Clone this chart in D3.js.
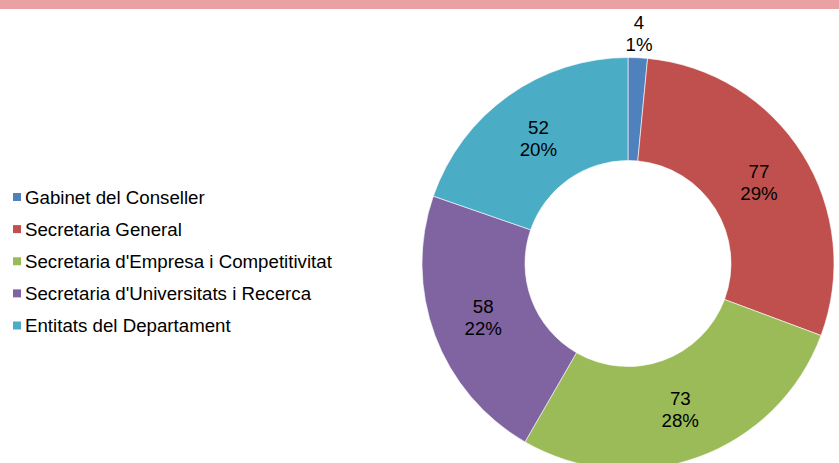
<!DOCTYPE html>
<html>
<head>
<meta charset="utf-8">
<script src="https://cdn.jsdelivr.net/npm/d3@7"></script>
<style>
	body { margin: 0; background: #fff; }
	svg { display: block; font-family: "Liberation Sans", Arial, sans-serif; }
</style>
</head>
<body>
<div id="chart"></div>
<script>

/**************************************************
 * 	DATA
 **************************************************/

var categories = ["Gabinet del Conseller", "Secretaria General", "Secretaria d'Empresa i Competitivitat",
	"Secretaria d'Universitats i Recerca", "Entitats del Departament"];
var values = [4, 77, 73, 58, 52];
var percentLabels = ["1%", "29%", "28%", "22%", "20%"];
var colors = ["#4F81BD", "#C0504D", "#9BBB59", "#8064A2", "#4BACC6"];

/**************************************************
 * 	INIT CHART
 **************************************************/

var width = 839, height = 463,
	cx = 628, cy = 263.5,
	outerR = 206, innerR = 103,
	outsideR = 231,
	fontSize = 18.7;

var svg = d3.select('#chart').append('svg')
	.attr("width", width)
	.attr("height", height);

// pink band across the top
svg.append('rect')
	.attr("x", 0).attr("y", 0)
	.attr("width", width).attr("height", 9)
	.attr("fill", "#E9A1A3");

var data = categories.map(function(c, i) {
	return { name: c, value: values[i], pct: percentLabels[i], color: colors[i] };
});

var pie = d3.pie()
	.sort(null)
	.value(function(d) { return d.value; });

var arc = d3.arc()
	.innerRadius(innerR)
	.outerRadius(outerR);

var arcOut = d3.arc()
	.innerRadius(outsideR)
	.outerRadius(outsideR);

var g = svg.append('g')
	.attr("transform", "translate(" + cx + "," + cy + ")");

var arcs = pie(data);

g.selectAll('path')
	.data(arcs).enter()
	.append('path')
	.attr("d", arc)
	.attr("fill", function(d) { return d.data.color; })
	.attr("stroke", "#fff")
	.attr("stroke-width", 0.6);

// slice labels: small slice goes outside
var labels = g.selectAll('.lbl')
	.data(arcs).enter()
	.append('text')
	.attr("class", "lbl")
	.attr("text-anchor", "middle")
	.attr("font-size", fontSize)
	.attr("fill", "#000")
	.attr("transform", function(d) {
		var p = (d.data.value < 10) ? arcOut.centroid(d) : arc.centroid(d);
		return "translate(" + p[0] + "," + p[1] + ")";
	});

labels.append('tspan')
	.attr("x", 0).attr("y", -4)
	.text(function(d) { return d.data.value; });
labels.append('tspan')
	.attr("x", 0).attr("y", 18)
	.text(function(d) { return d.data.pct; });

/**************************************************
 * 	LEGEND
 **************************************************/

var legendY = d3.scalePoint()
	.domain(categories)
	.range([197, 325.5]);

var legend = svg.append('g').selectAll('g')
	.data(data).enter()
	.append('g')
	.attr("transform", function(d) { return "translate(0," + legendY(d.name) + ")"; });

legend.append('rect')
	.attr("x", 13).attr("y", -4)
	.attr("width", 8).attr("height", 8)
	.attr("fill", function(d) { return d.color; });

legend.append('text')
	.attr("x", 25).attr("y", 0)
	.attr("dy", "0.35em")
	.attr("font-size", fontSize)
	.attr("fill", "#000")
	.text(function(d) { return d.name; });

</script>
</body>
</html>
